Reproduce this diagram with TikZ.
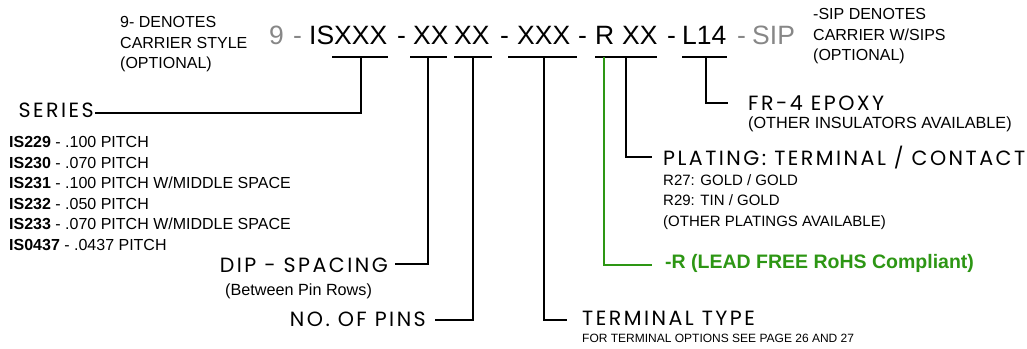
\documentclass[tikz,border=0pt]{standalone}
\usepackage{fontspec}
\setmainfont{Liberation Sans}
\newfontfamily\widefont[LetterSpace=12]{Poppins}
\usetikzlibrary{calc}
\definecolor{codegray}{RGB}{135,135,135}
\definecolor{rohsgreen}{RGB}{45,150,20}
\tikzstyle{code} = [anchor=base west, inner sep=0pt, font=\fontsize{26.5}{30}\selectfont]
\tikzstyle{heading} = [anchor=base west, inner sep=0pt, font=\widefont\fontsize{20.6}{23}\selectfont]
\tikzstyle{note} = [anchor=north west, inner sep=0pt, align=left, font=\fontsize{16}{20.5}\selectfont]
\tikzstyle{subnote} = [anchor=base west, inner sep=0pt, font=\fontsize{16.2}{20}\selectfont]
\tikzstyle{leader} = [line width=1.4pt]

\begin{document}
\begin{tikzpicture}[x=1pt, y=-1pt]
\useasboundingbox (0,0) rectangle (1027,348);

%% Part number %%
\node [code, text=codegray] (Nine) at (269,44) {9};
\node [code, text=codegray] (DashA) at (293,44) {-};
\node [code] (Series) at (309,44) {ISXXX};
\node [code] (DashB) at (397,44) {-};
\node [code] (Spacing) at (413,44) {XX};
\node [code] (Pins) at (454,44) {XX};
\node [code] (DashC) at (500,44) {-};
\node [code] (Terminal) at (517,44) {XXX};
\node [code] (DashD) at (578,44) {-};
\node [code] (LeadFree) at (595,44) {R};
\node [code] (Plating) at (622,44) {XX};
\node [code] (DashE) at (667,44) {-};
\node [code] (Insulator) at (682,44) {L14};
\node [code, text=codegray] (DashF) at (737,44) {-};
\node [code, text=codegray] (Sip) at (752,44) {SIP};

%% Optional notes %%
\node [note] (CarrierNote) at (120,16.3) {9- DENOTES\\CARRIER STYLE\\(OPTIONAL)};
\node [note] (SipNote) at (813,8.3) {-SIP DENOTES\\CARRIER W/SIPS\\(OPTIONAL)};

%% Stem points under the bars %%
\coordinate (bSeries) at (361,57);
\coordinate (bSpacing) at (428,57);
\coordinate (bPins) at (473,57);
\coordinate (bTerminal) at (544,57);
\coordinate (bLeadFree) at (604,57);
\coordinate (bPlating) at (626,57);
\coordinate (bInsulator) at (706,57);

%% Leader ends %%
\coordinate (eSeries) at (95,113);
\coordinate (eSpacing) at (395,264);
\coordinate (ePins) at (435,320);
\coordinate (eTerminal) at (567,320);
\coordinate (eLeadFree) at (652,265);
\coordinate (ePlating) at (652,157);
\coordinate (eInsulator) at (728,103);

%% Descriptions %%
\node [heading, anchor=base east] (SeriesTag) at ($(eSeries)+(-1,4)$) {SERIES};
\node [note] (SeriesList) at (9,136.3) {\textbf{IS229} - .100 PITCH\\\textbf{IS230} - .070 PITCH\\\textbf{IS231} - .100 PITCH W/MIDDLE SPACE\\\textbf{IS232} - .050 PITCH\\\textbf{IS233} - .070 PITCH W/MIDDLE SPACE\\\textbf{IS0437} - .0437 PITCH};

\node [heading, anchor=base east] (SpacingTag) at ($(eSpacing)+(-7,8)$) {DIP - SPACING};
\node [subnote] (SpacingSub) at (225,295) {(Between Pin Rows)};

\node [heading, anchor=base east] (PinsTag) at ($(ePins)+(-9,6)$) {NO. OF PINS};

\node [heading] (TerminalTag) at ($(eTerminal)+(15,5)$) {TERMINAL TYPE};
\node [subnote, font=\fontsize{12}{14}\selectfont] (TerminalSub) at ($(eTerminal)+(15,22)$) {FOR TERMINAL OPTIONS SEE PAGE 26 AND 27};

\node [anchor=base west, inner sep=0pt, text=rohsgreen, font=\bfseries\fontsize{19.5}{22}\selectfont] (LeadFreeTag) at ($(eLeadFree)+(13,3)$) {-R (LEAD FREE RoHS Compliant)};

\node [heading] (PlatingTag) at ($(ePlating)+(11,8)$) {PLATING: TERMINAL / CONTACT};
\node [note, font=\fontsize{15}{20.5}\selectfont] (PlatingList) at (663,174) {R27: GOLD / GOLD\\R29: TIN / GOLD\\(OTHER PLATINGS AVAILABLE)};

\node [heading] (InsulatorTag) at ($(eInsulator)+(20,7)$) {FR-4 EPOXY};
\node [subnote] (InsulatorSub) at ($(eInsulator)+(20,25)$) {(OTHER INSULATORS AVAILABLE)};

%% Bars %%
\draw[leader] (332,57) -- (388,57);
\draw[leader] (410,57) -- (447,57);
\draw[leader] (454,57) -- (492,57);
\draw[leader] (508,57) -- (577,57);
\draw[leader] (595,57) -- (657,57);
\draw[leader] (682,57) -- (727,57);

%% Leaders %%
\draw[leader] (bSeries) |- (eSeries);
\draw[leader] (bSpacing) |- (eSpacing);
\draw[leader] (bPins) |- (ePins);
\draw[leader] (bTerminal) |- (eTerminal);
\draw[leader, rohsgreen] (bLeadFree) |- (eLeadFree);
\draw[leader] (bPlating) |- (ePlating);
\draw[leader] (bInsulator) |- (eInsulator);
\end{tikzpicture}
\end{document}
